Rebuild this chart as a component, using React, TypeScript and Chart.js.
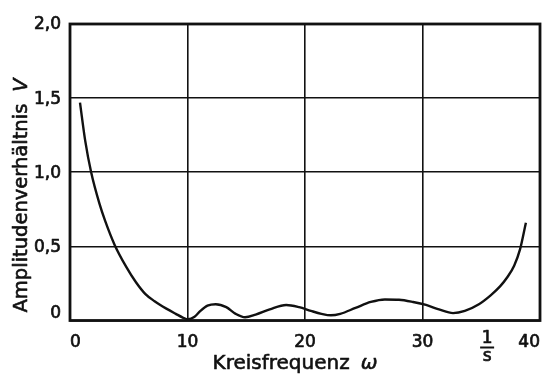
import React, { useEffect, useRef } from "react";
import { Chart, registerables } from "chart.js";

Chart.register(...registerables);

// Kreisfrequenz ω (1/s)
const omegaValues = [
  0.85, 1.3, 1.8, 2.5, 3.0, 3.8, 4.8, 5.6, 6.4, 7.2, 8.2, 9.0, 9.6, 10.05,
  10.6, 11.1, 11.7, 12.4, 13.3, 14.1, 14.9, 15.8, 17.0, 18.4, 19.5, 20.5,
  21.4, 22.2, 23.0, 24.3, 25.6, 26.8, 28.0, 29.2, 30.3, 31.4, 32.6, 33.6,
  34.8, 35.8, 36.6, 37.2, 37.8, 38.3, 38.8,
];
// Amplitudenverhältnis V
const ratioValues = [
  1.47, 1.21, 1.0, 0.79, 0.67, 0.51, 0.36, 0.26, 0.18, 0.13, 0.08, 0.045, 0.02,
  0.008, 0.025, 0.065, 0.1, 0.11, 0.09, 0.045, 0.022, 0.04, 0.075, 0.105,
  0.09, 0.065, 0.045, 0.035, 0.045, 0.085, 0.125, 0.142, 0.14, 0.125, 0.105,
  0.075, 0.05, 0.065, 0.11, 0.17, 0.23, 0.29, 0.37, 0.48, 0.66,
];

const xTickValues = [0, 10, 20, 30, 40];
const xTickLabels = ["0", "10", "20", "30", "40"];
const yTickValues = [0, 0.5, 1.0, 1.5, 2.0];
const yTickLabels = ["0", "0,5", "1,0", "1,5", "2,0"];

const xTitle = "Kreisfrequenz";
const xTitleSymbol = "ω";
const yTitle = "Amplitudenverhältnis";
const yTitleSymbol = "V";
const unitNumerator = "1";
const unitDenominator = "s";
const unitPosition = 35.5;

const FONT = '"DejaVu Sans", "Liberation Sans", sans-serif';
const INK = "#111111";

function heavyText(ctx: CanvasRenderingContext2D, text: string, x: number, y: number) {
  ctx.fillText(text, x, y);
  ctx.strokeText(text, x, y);
}

const textPlugin = {
  id: "textPlugin",
  beforeDraw(chart: any) {
    const ctx = chart.ctx;
    ctx.save();
    ctx.fillStyle = "#ffffff";
    ctx.fillRect(0, 0, chart.width, chart.height);
    ctx.restore();
  },
  afterDraw(chart: any) {
    const ctx = chart.ctx;
    const area = chart.chartArea;
    const xs = chart.scales.x;
    const ys = chart.scales.y;
    ctx.save();
    // frame
    ctx.strokeStyle = INK;
    ctx.lineWidth = 2.8;
    ctx.strokeRect(area.left, area.top, area.right - area.left, area.bottom - area.top);

    ctx.fillStyle = INK;
    ctx.lineWidth = 0.7;
    ctx.lineJoin = "round";
    ctx.font = `17px ${FONT}`;
    // y tick labels
    ctx.textAlign = "right";
    ctx.textBaseline = "middle";
    yTickValues.forEach((v, i) => {
      let y = ys.getPixelForValue(v);
      if (i === 0) y -= 8;
      heavyText(ctx, yTickLabels[i], area.left - 9, y + 1);
    });
    // x tick labels
    xTickValues.forEach((v, i) => {
      const x = xs.getPixelForValue(v);
      ctx.textAlign = i === 0 ? "left" : i === xTickValues.length - 1 ? "right" : "center";
      heavyText(ctx, xTickLabels[i], x, area.bottom + 22);
    });
    // unit 1/s
    const ux = xs.getPixelForValue(unitPosition);
    ctx.textAlign = "center";
    heavyText(ctx, unitNumerator, ux, area.bottom + 18.5);
    heavyText(ctx, unitDenominator, ux, area.bottom + 36.5);
    ctx.lineWidth = 2;
    ctx.beginPath();
    ctx.moveTo(ux - 7, area.bottom + 27);
    ctx.lineTo(ux + 7, area.bottom + 27);
    ctx.stroke();
    ctx.lineWidth = 0.6;

    // x title
    ctx.textBaseline = "alphabetic";
    ctx.textAlign = "left";
    ctx.font = `20px ${FONT}`;
    const w1 = ctx.measureText(xTitle).width;
    ctx.font = `italic 20px ${FONT}`;
    const w2 = ctx.measureText(xTitleSymbol).width;
    const gap = 11;
    const cx = (area.left + area.right) / 2 - 10;
    const start = cx - (w1 + gap + w2) / 2;
    ctx.font = `20px ${FONT}`;
    heavyText(ctx, xTitle, start, area.bottom + 48.5);
    ctx.font = `italic 20px ${FONT}`;
    heavyText(ctx, xTitleSymbol, start + w1 + gap, area.bottom + 48.5);

    // y title
    ctx.translate(27, ys.getPixelForValue(0) - 8);
    ctx.rotate(-Math.PI / 2);
    ctx.font = `19.5px ${FONT}`;
    heavyText(ctx, yTitle, 0, 0);
    const wy = ctx.measureText(yTitle).width;
    ctx.font = `italic 19.5px ${FONT}`;
    heavyText(ctx, yTitleSymbol, wy + 12, 0);
    ctx.restore();
  },
};

export default function App() {
  const ref = useRef<HTMLCanvasElement>(null);
  useEffect(() => {
    if (!ref.current) return;
    const chart = new Chart(ref.current, {
      type: "line",
      data: {
        datasets: [
          {
            data: omegaValues.map((x, i) => ({ x, y: ratioValues[i] })),
            borderColor: INK,
            borderWidth: 2.4,
            pointRadius: 0,
            cubicInterpolationMode: "monotone",
            fill: false,
          },
        ],
      },
      options: {
        responsive: false,
        animation: false,
        layout: { padding: { left: 70, top: 24, right: 5, bottom: 56.5 } },
        plugins: { legend: { display: false }, tooltip: { enabled: false } },
        scales: {
          x: {
            type: "linear",
            min: 0,
            max: 40,
            ticks: { display: false, stepSize: 10 },
            grid: { color: INK, lineWidth: 1.6, drawTicks: false },
            border: { display: false },
          },
          y: {
            type: "linear",
            min: 0,
            max: 2,
            ticks: { display: false, stepSize: 0.5 },
            grid: { color: INK, lineWidth: 1.6, drawTicks: false },
            border: { display: false },
          },
        },
      },
      plugins: [textPlugin],
    } as any);
    return () => chart.destroy();
  }, []);
  return (
    <div style={{ position: "absolute", left: 0, top: 0, width: 545, height: 377 }}>
      <canvas ref={ref} width={545} height={377} />
    </div>
  );
}
